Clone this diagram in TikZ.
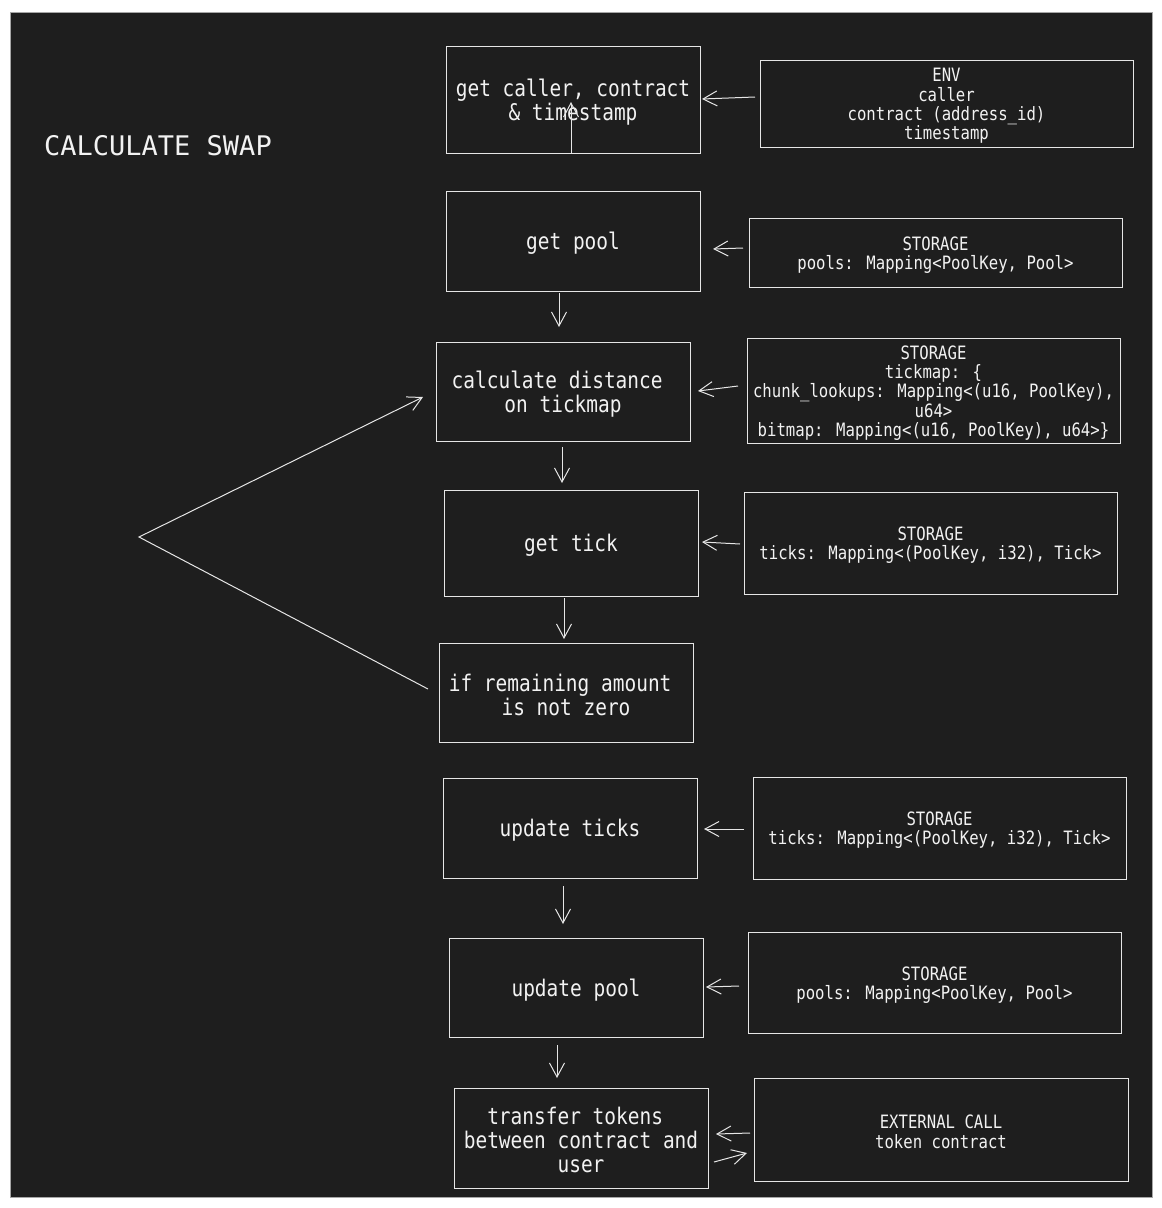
\documentclass[tikz,border=0pt]{standalone}
\usepackage{fontspec}
\usetikzlibrary{arrows.meta,calc}
\newfontfamily\monof[FakeStretch=0.85]{DejaVu Sans Mono}
\newfontfamily\titlef{DejaVu Sans Mono}
\newcommand{\usc}{{\char"5F}}
\newcommand{\hstep}{\rule{0pt}{22pt}}
\newcommand{\hsrc}{\rule{0pt}{18.5pt}}
\newcommand{\trail}{\hphantom{x}}
\definecolor{bg}{HTML}{1E1E1E}
\definecolor{ink}{HTML}{E6E6E6}
\definecolor{txt}{HTML}{F2F2F2}
\tikzset{
  stepbox/.style={draw=ink, line width=1pt, inner sep=0pt, outer sep=0pt,
    minimum width=254pt, text=txt, align=center,
    font=\monof\fontsize{22.9}{24}\selectfont},
  srcbox/.style={draw=ink, line width=1pt, inner sep=0pt, outer sep=0pt,
    minimum width=373pt, text=txt, align=center,
    font=\monof\fontsize{18.4}{19.3}\selectfont},
  arr/.style={draw=ink, line width=1pt, -{Straight Barb[length=14pt,width=15pt,line width=1pt]}},
}
\begin{document}
\begin{tikzpicture}[x=1pt,y=-1pt]
\useasboundingbox (0,0) rectangle (1162,1208);
\fill[white] (0,0) rectangle (1162,1208);
\filldraw[fill=bg, draw=black!35, line width=1pt] (10,12) rectangle (1152,1197);

\node[anchor=west, inner sep=0pt, text=txt, font=\titlef\fontsize{27}{30}\selectfont] (title) at (44,146) {CALCULATE SWAP};

% step boxes
\node[stepbox, minimum height=107pt] (b1) at (573,99.5) {\hstep get caller, contract\\\& timestamp};
\node[stepbox, minimum height=100pt] (b2) at (573,241) {\hstep get pool};
\node[stepbox, minimum height=99pt] (b3) at (563,391.5) {\hstep calculate distance\trail\\on tickmap};
\node[stepbox, minimum height=106pt] (b4) at (571,543) {\hstep get tick};
\node[stepbox, minimum height=99pt] (b5) at (566,692.5) {\hstep if remaining amount\trail\\is not zero};
\node[stepbox, minimum height=100pt] (b6) at (570,828) {\hstep update ticks};
\node[stepbox, minimum height=99pt] (b7) at (576,987.5) {\hstep update pool};
\node[stepbox, minimum height=100pt] (b8) at (581,1138) {\hstep transfer tokens\trail\\between contract and\\user};

% source boxes
\node[srcbox, minimum height=87pt] (env) at (946.5,103.5) {\hsrc ENV\\caller\\contract (address\usc id)\\timestamp};
\node[srcbox, minimum height=69pt] (pools1) at (935.5,252.5) {\hsrc STORAGE\\pools: Mapping<PoolKey, Pool>};
\node[srcbox, minimum height=105pt] (tickmap) at (933.5,390.5) {\hsrc STORAGE\\tickmap: \{\\chunk\usc lookups: Mapping<(u16, PoolKey),\\u64>\\bitmap: Mapping<(u16, PoolKey), u64>\}};
\node[srcbox, minimum height=102pt] (ticks1) at (930.5,543) {\hsrc STORAGE\\ticks: Mapping<(PoolKey, i32), Tick>};
\node[srcbox, minimum height=102pt] (ticks2) at (939.5,828) {\hsrc STORAGE\\ticks: Mapping<(PoolKey, i32), Tick>};
\node[srcbox, minimum height=101pt] (pools2) at (934.5,982.5) {\hsrc STORAGE\\pools: Mapping<PoolKey, Pool>};
\node[srcbox, minimum width=374pt, minimum height=103pt] (ext) at (941,1129.5) {\hsrc EXTERNAL CALL\\token contract};

% connectors
\draw[arr] ($(env.west)+(-5,-6.5)$) -- ($(b1.east)+(2,-0.5)$);
\draw[arr] ($(b1.south)+(-2,0)$) -- ($(b1.center)+(-2,2.5)$);
\draw[arr] ($(pools1.west)+(-6,-4.5)$) -- ($(b2.east)+(13,8)$);
\draw[arr] ($(b2.south)+(-14,2)$) -- ($(b3.north)+(-4,-15)$);
\draw[arr] ($(tickmap.west)+(-9,-4.5)$) -- ($(b3.east)+(8,-0.5)$);
\draw[arr] ($(b3.south)+(-1,6)$) -- ($(b4.north)+(-9,-7)$);
\draw[arr] ($(ticks1.west)+(-4,1)$) -- ($(b4.east)+(4,-1)$);
\draw[arr] ($(b4.south)+(-7,2)$) -- ($(b5.north)+(-2,-4)$);
\coordinate (loopc) at (139,537);
\draw[arr] ($(b5.west)+(-11,-3.5)$) -- (loopc) -- ($(b3.west)+(-13,5.5)$);
\draw[arr] ($(ticks2.west)+(-9,1)$) -- ($(b6.east)+(7,1)$);
\draw[arr] ($(b6.south)+(-7,8)$) -- ($(b7.north)+(-13,-14)$);
\draw[arr] ($(pools2.west)+(-9,3.5)$) -- ($(b7.east)+(3,-0.5)$);
\draw[arr] ($(b7.south)+(-19,8)$) -- ($(b8.north)+(-24,-10)$);
\draw[arr] ($(ext.west)+(-4,3.5)$) -- ($(b8.east)+(8,-4)$);
\draw[arr] ($(b8.east)+(6,24)$) -- ($(ext.west)+(-7,23.5)$);
\end{tikzpicture}
\end{document}
